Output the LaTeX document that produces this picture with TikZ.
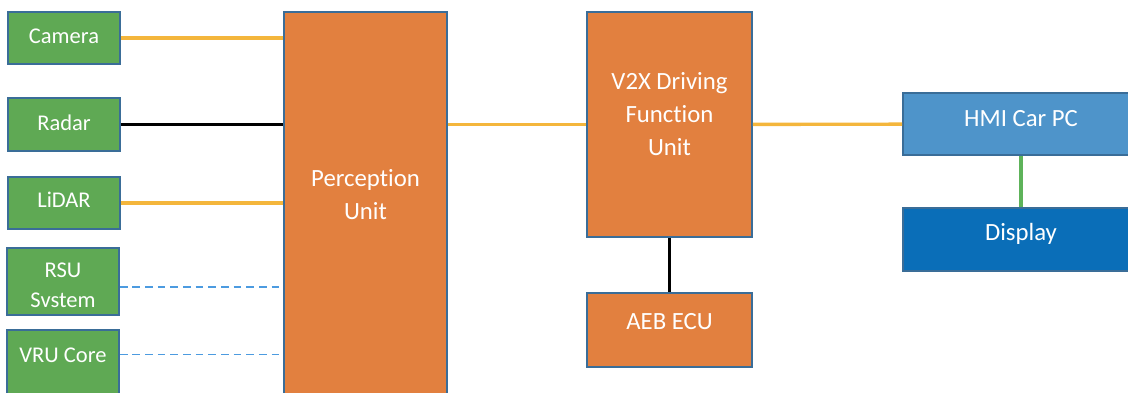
\documentclass[tikz,border=0pt]{standalone}
\usepackage{fontspec}
\setmainfont{Carlito}[Ligatures=NoCommon]
\usepackage{tikz}
\usetikzlibrary{calc}

\definecolor{sensorgreen}{HTML}{5FA954}
\definecolor{unitorange}{HTML}{E2803F}
\definecolor{pcblue}{HTML}{4E94CA}
\definecolor{displayblue}{HTML}{0A6EB8}
\definecolor{edgeblue}{HTML}{3A6D98}
\definecolor{wireorange}{HTML}{F4B63C}
\definecolor{wiregreen}{HTML}{5EB35A}
\definecolor{linkblue}{HTML}{4C9BE0}

\begin{document}
\begin{tikzpicture}[x=0.025cm, y=-0.025cm,
    unit/.style={draw=edgeblue, line width=1.1pt, text=white, align=center, inner sep=0pt},
    sensor/.style={unit, fill=sensorgreen, minimum width=2.8cm, font=\fontsize{16}{21.3}\selectfont, text height=10.3pt},
    ecu/.style={unit, fill=unitorange, minimum width=4.1cm, font=\fontsize{17.6}{23.5}\selectfont, text height=11.3pt},
    hmi/.style={unit, minimum width=5.9cm, font=\fontsize{17.6}{23.5}\selectfont, text height=11.3pt},
    wire/.style={line width=2.4pt, wireorange},
    bus/.style={line width=2.4pt, black},
    link/.style={line width=1pt, linkblue, dash pattern=on 5.5pt off 3.5pt}]
        \useasboundingbox (0,0) rectangle (1128,393);

        % sensors on the left
        \node[sensor, minimum height=1.3cm, text depth=2.8pt] (cam) at (64,38) {Camera};
        \node[sensor, minimum height=1.325cm, text depth=2.1pt] (radar) at (64,124.5) {Radar};
        \node[sensor, minimum height=1.3cm, text depth=4.3pt] (lidar) at (64,203) {LiDAR};
        \node[sensor, minimum height=1.675cm, text height=36.6pt, text depth=0pt] (rsu) at (63,281.5) {RSU\\Svstem};
        \node[sensor, minimum height=2.75cm, text depth=42.7pt] (vru) at (63,385) {VRU Core};

        % processing units
        \node[ecu, minimum width=4.075cm, minimum height=11.2cm, text depth=34.1pt] (perc) at (365.5,236) {Perception\\Unit};
        \node[ecu, minimum width=4.125cm, minimum height=5.625cm, text height=44.8pt, text depth=0pt] (v2x) at (669.5,124.5) {V2X Driving\\Function\\Unit};
        \node[ecu, minimum width=4.125cm, minimum height=1.85cm, text depth=11.4pt] (aeb) at (669.5,330) {AEB ECU};

        % HMI side
        \node[hmi, fill=pcblue, minimum height=1.55cm, text depth=7.1pt] (pc) at (1021,124) {HMI Car PC};
        \node[hmi, fill=displayblue, minimum height=1.575cm, text depth=9.2pt] (disp) at (1021,239.5) {Display};

        \coordinate (rsu port) at ($(rsu.east)+(0,5.5)$);
        \coordinate (vru port) at ($(vru.north east)+(0,25)$);

        \draw[wire] (cam) -- (cam -| perc.west);
        \draw[bus] (radar) -- (radar -| perc.west);
        \draw[wire] (lidar) -- (lidar -| perc.west);
        \draw[link] (rsu port) -- (rsu port -| perc.west);
        \draw[link] (vru port) -- (vru port -| perc.west);

        \draw[wire] (v2x.west -| perc.east) -- (v2x.west);
        \draw[wire] (v2x) -- (pc);
        \draw[bus] (v2x) -- (aeb);
        \draw[line width=2.4pt, wiregreen] (pc) -- (disp);
      \end{tikzpicture}
\end{document}
